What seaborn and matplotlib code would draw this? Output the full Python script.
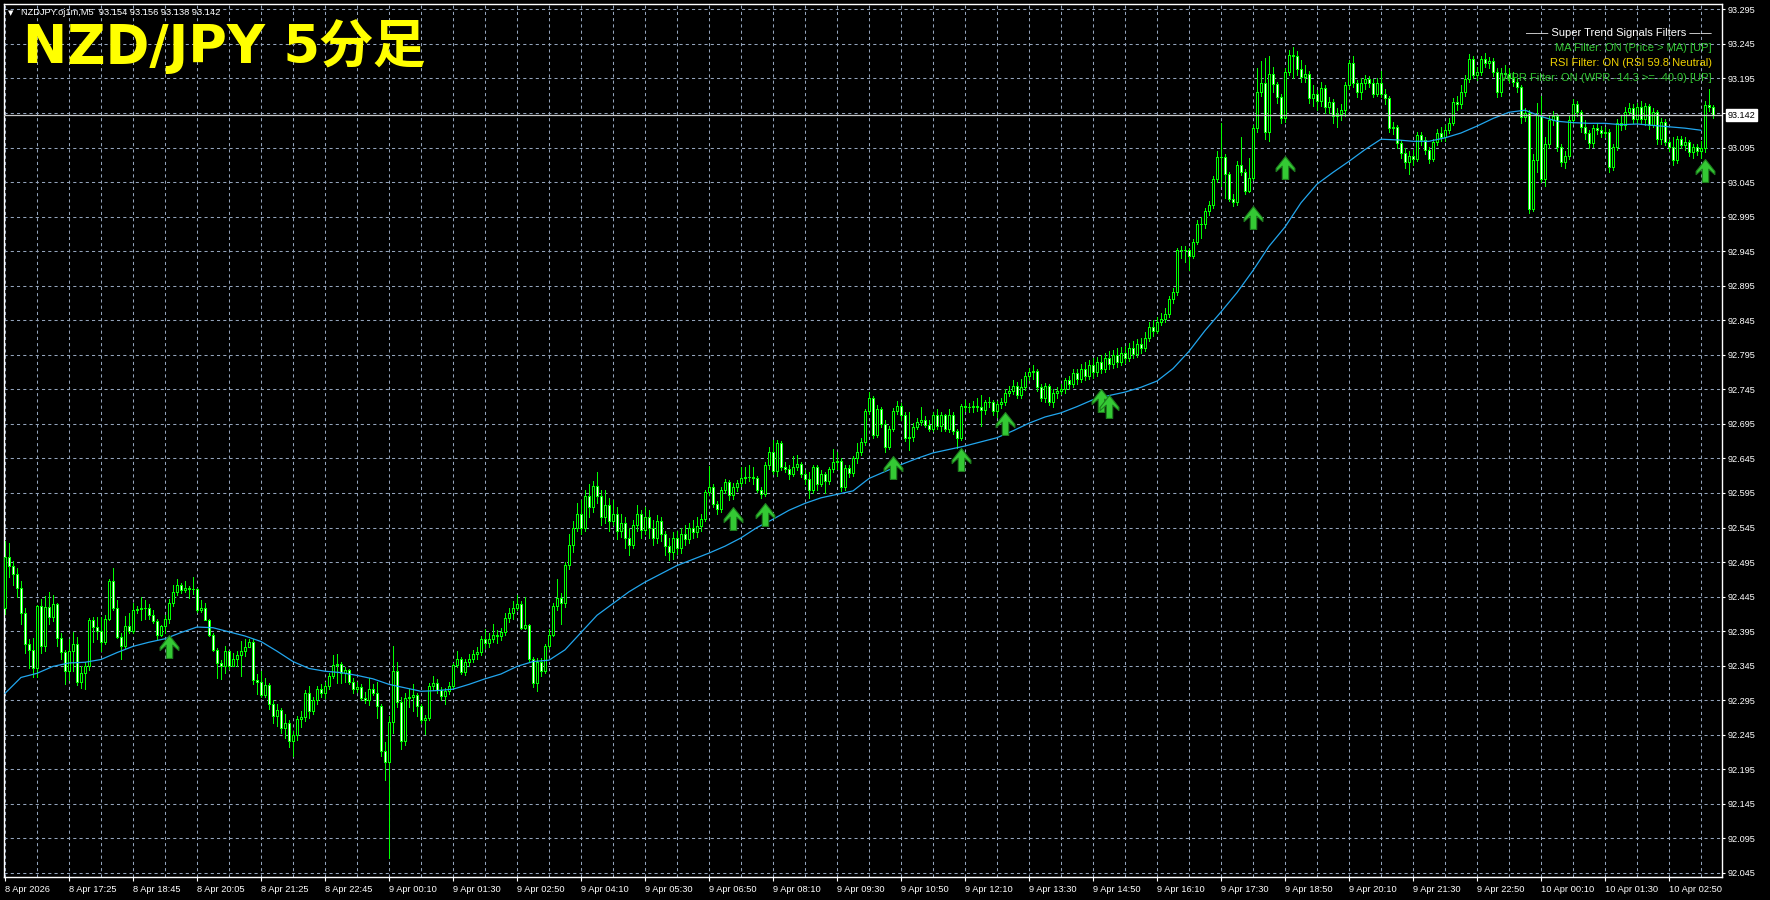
import numpy as np
import matplotlib
matplotlib.use("Agg")
import matplotlib.pyplot as plt
import seaborn as sns
from matplotlib.path import Path

# NZDJPY M5 candles, one value per bar, left to right
first_open = 92.428
closes = [
    92.503, 92.489, 92.478, 92.457, 92.421, 92.376, 92.368, 92.342, 92.432, 92.373, 92.430, 92.416, 92.434, 92.385, 92.365, 92.338,
    92.366, 92.376, 92.322, 92.334, 92.345, 92.411, 92.401, 92.395, 92.379, 92.413, 92.467, 92.428, 92.387, 92.373, 92.403, 92.395,
    92.426, 92.427, 92.428, 92.428, 92.419, 92.409, 92.390, 92.402, 92.412, 92.436, 92.451, 92.462, 92.455, 92.457, 92.456, 92.456,
    92.425, 92.428, 92.411, 92.390, 92.368, 92.349, 92.345, 92.366, 92.345, 92.354, 92.361, 92.366, 92.372, 92.380, 92.324, 92.321,
    92.303, 92.317, 92.290, 92.272, 92.281, 92.255, 92.262, 92.236, 92.245, 92.268, 92.271, 92.306, 92.279, 92.296, 92.312, 92.305,
    92.316, 92.330, 92.346, 92.348, 92.335, 92.339, 92.322, 92.312, 92.314, 92.298, 92.296, 92.312, 92.305, 92.286, 92.222, 92.205,
    92.264, 92.337, 92.293, 92.236, 92.298, 92.300, 92.302, 92.286, 92.267, 92.269, 92.316, 92.320, 92.310, 92.301, 92.308, 92.316,
    92.346, 92.354, 92.336, 92.350, 92.355, 92.362, 92.365, 92.383, 92.378, 92.384, 92.390, 92.388, 92.394, 92.414, 92.421, 92.428,
    92.434, 92.400, 92.404, 92.354, 92.320, 92.351, 92.337, 92.373, 92.390, 92.432, 92.443, 92.436, 92.491, 92.520, 92.545, 92.565,
    92.545, 92.590, 92.575, 92.605, 92.590, 92.560, 92.578, 92.555, 92.565, 92.540, 92.552, 92.530, 92.520, 92.548, 92.565, 92.542,
    92.560, 92.545, 92.530, 92.555, 92.535, 92.518, 92.510, 92.530, 92.515, 92.535, 92.528, 92.545, 92.538, 92.547, 92.557, 92.597,
    92.603, 92.579, 92.572, 92.600, 92.611, 92.592, 92.603, 92.609, 92.616, 92.618, 92.618, 92.616, 92.600, 92.593, 92.635, 92.655,
    92.627, 92.667, 92.632, 92.630, 92.622, 92.632, 92.637, 92.623, 92.615, 92.600, 92.632, 92.608, 92.622, 92.613, 92.629, 92.640,
    92.641, 92.603, 92.631, 92.624, 92.645, 92.655, 92.669, 92.713, 92.733, 92.679, 92.716, 92.695, 92.662, 92.687, 92.714, 92.721,
    92.708, 92.675, 92.676, 92.691, 92.698, 92.700, 92.694, 92.688, 92.708, 92.692, 92.708, 92.688, 92.708, 92.684, 92.675, 92.721,
    92.720, 92.719, 92.721, 92.720, 92.715, 92.726, 92.727, 92.713, 92.724, 92.726, 92.740, 92.742, 92.750, 92.737, 92.748, 92.765,
    92.770, 92.772, 92.748, 92.733, 92.750, 92.727, 92.739, 92.743, 92.745, 92.758, 92.752, 92.768, 92.760, 92.775, 92.765, 92.780,
    92.770, 92.785, 92.775, 92.790, 92.782, 92.795, 92.785, 92.798, 92.790, 92.805, 92.796, 92.810, 92.805, 92.820, 92.835, 92.830,
    92.842, 92.847, 92.854, 92.876, 92.886, 92.946, 92.947, 92.946, 92.938, 92.958, 92.985, 92.984, 93.003, 93.012, 93.050, 93.081,
    93.081, 93.056, 93.021, 93.016, 93.070, 93.060, 93.032, 93.051, 93.123, 93.175, 93.189, 93.118, 93.202, 93.187, 93.168, 93.137,
    93.204, 93.229, 93.228, 93.209, 93.197, 93.202, 93.167, 93.173, 93.162, 93.181, 93.153, 93.161, 93.141, 93.144, 93.150, 93.185,
    93.217, 93.188, 93.176, 93.188, 93.194, 93.188, 93.173, 93.188, 93.173, 93.166, 93.123, 93.125, 93.101, 93.087, 93.074, 93.083,
    93.079, 93.113, 93.106, 93.091, 93.079, 93.103, 93.116, 93.110, 93.120, 93.131, 93.161, 93.158, 93.176, 93.194, 93.223, 93.200,
    93.205, 93.223, 93.217, 93.220, 93.205, 93.176, 93.203, 93.201, 93.196, 93.190, 93.183, 93.139, 93.145, 93.006, 93.077, 93.142,
    93.050, 93.100, 93.135, 93.140, 93.096, 93.074, 93.082, 93.135, 93.158, 93.147, 93.125, 93.116, 93.101, 93.123, 93.120, 93.116,
    93.118, 93.067, 93.096, 93.130, 93.127, 93.147, 93.152, 93.136, 93.153, 93.136, 93.155, 93.128, 93.147, 93.108, 93.132, 93.103,
    93.096, 93.077, 93.108, 93.099, 93.103, 93.089, 93.096, 93.090, 93.094, 93.157, 93.154, 93.142,
]
highs = [
    92.525, 92.523, 92.496, 92.486, 92.467, 92.428, 92.383, 92.385, 92.433, 92.441, 92.446, 92.452, 92.447, 92.436, 92.392, 92.368,
    92.383, 92.394, 92.386, 92.344, 92.351, 92.414, 92.416, 92.416, 92.416, 92.418, 92.470, 92.486, 92.440, 92.392, 92.417, 92.422,
    92.436, 92.432, 92.444, 92.440, 92.435, 92.425, 92.412, 92.404, 92.418, 92.442, 92.462, 92.471, 92.465, 92.468, 92.460, 92.474,
    92.457, 92.440, 92.436, 92.413, 92.392, 92.370, 92.353, 92.373, 92.366, 92.364, 92.367, 92.381, 92.383, 92.383, 92.383, 92.333,
    92.338, 92.327, 92.320, 92.296, 92.290, 92.284, 92.275, 92.266, 92.250, 92.272, 92.280, 92.310, 92.315, 92.300, 92.316, 92.318,
    92.322, 92.334, 92.360, 92.362, 92.351, 92.343, 92.340, 92.327, 92.322, 92.318, 92.307, 92.327, 92.319, 92.322, 92.290, 92.235,
    92.272, 92.373, 92.350, 92.300, 92.305, 92.312, 92.318, 92.306, 92.290, 92.273, 92.320, 92.330, 92.326, 92.314, 92.313, 92.322,
    92.349, 92.366, 92.358, 92.355, 92.362, 92.368, 92.372, 92.388, 92.398, 92.392, 92.405, 92.396, 92.400, 92.422, 92.428, 92.438,
    92.448, 92.438, 92.445, 92.406, 92.358, 92.356, 92.356, 92.376, 92.398, 92.436, 92.470, 92.450, 92.495, 92.535, 92.555, 92.580,
    92.585, 92.600, 92.608, 92.612, 92.625, 92.600, 92.600, 92.588, 92.585, 92.575, 92.565, 92.560, 92.545, 92.556, 92.578, 92.570,
    92.575, 92.570, 92.556, 92.563, 92.560, 92.540, 92.530, 92.538, 92.540, 92.545, 92.548, 92.552, 92.556, 92.560, 92.565, 92.600,
    92.634, 92.608, 92.584, 92.604, 92.615, 92.614, 92.610, 92.614, 92.632, 92.632, 92.636, 92.632, 92.620, 92.604, 92.640, 92.662,
    92.671, 92.672, 92.670, 92.640, 92.636, 92.648, 92.650, 92.640, 92.628, 92.626, 92.636, 92.635, 92.628, 92.626, 92.633, 92.658,
    92.655, 92.645, 92.636, 92.636, 92.648, 92.668, 92.675, 92.716, 92.741, 92.736, 92.722, 92.720, 92.700, 92.692, 92.718, 92.728,
    92.725, 92.712, 92.712, 92.696, 92.704, 92.720, 92.706, 92.700, 92.712, 92.717, 92.712, 92.710, 92.717, 92.712, 92.688, 92.724,
    92.729, 92.725, 92.728, 92.732, 92.737, 92.730, 92.734, 92.730, 92.728, 92.732, 92.745, 92.750, 92.758, 92.755, 92.760, 92.770,
    92.776, 92.780, 92.775, 92.752, 92.754, 92.753, 92.745, 92.748, 92.752, 92.762, 92.765, 92.774, 92.775, 92.782, 92.785, 92.788,
    92.790, 92.792, 92.795, 92.798, 92.800, 92.802, 92.805, 92.806, 92.808, 92.812, 92.815, 92.818, 92.820, 92.828, 92.842, 92.846,
    92.850, 92.856, 92.862, 92.880, 92.892, 92.950, 92.952, 92.952, 92.950, 92.962, 92.990, 92.994, 93.008, 93.018, 93.054, 93.090,
    93.130, 93.086, 93.060, 93.028, 93.075, 93.110, 93.064, 93.080, 93.128, 93.210, 93.220, 93.225, 93.228, 93.212, 93.190, 93.172,
    93.210, 93.236, 93.240, 93.234, 93.222, 93.215, 93.206, 93.185, 93.178, 93.190, 93.185, 93.168, 93.165, 93.152, 93.158, 93.190,
    93.222, 93.228, 93.192, 93.196, 93.200, 93.198, 93.194, 93.196, 93.206, 93.180, 93.170, 93.132, 93.128, 93.106, 93.094, 93.090,
    93.092, 93.118, 93.118, 93.110, 93.096, 93.108, 93.122, 93.124, 93.128, 93.138, 93.166, 93.170, 93.185, 93.200, 93.230, 93.228,
    93.212, 93.228, 93.232, 93.226, 93.224, 93.210, 93.210, 93.214, 93.210, 93.204, 93.195, 93.186, 93.152, 93.150, 93.085, 93.160,
    93.170, 93.110, 93.140, 93.148, 93.143, 93.100, 93.090, 93.142, 93.165, 93.162, 93.150, 93.135, 93.120, 93.128, 93.130, 93.126,
    93.124, 93.122, 93.100, 93.136, 93.140, 93.154, 93.160, 93.158, 93.160, 93.162, 93.160, 93.158, 93.152, 93.150, 93.138, 93.136,
    93.108, 93.110, 93.112, 93.112, 93.110, 93.106, 93.100, 93.100, 93.104, 93.162, 93.180, 93.156,
]
lows = [
    92.420, 92.474, 92.462, 92.444, 92.406, 92.363, 92.341, 92.329, 92.329, 92.363, 92.366, 92.406, 92.410, 92.373, 92.354, 92.319,
    92.325, 92.338, 92.317, 92.313, 92.311, 92.339, 92.379, 92.384, 92.366, 92.376, 92.411, 92.426, 92.385, 92.354, 92.371, 92.393,
    92.393, 92.422, 92.411, 92.413, 92.412, 92.407, 92.383, 92.388, 92.393, 92.407, 92.431, 92.448, 92.450, 92.452, 92.443, 92.449,
    92.423, 92.423, 92.411, 92.388, 92.367, 92.327, 92.326, 92.335, 92.340, 92.345, 92.345, 92.330, 92.359, 92.372, 92.319, 92.304,
    92.300, 92.300, 92.283, 92.262, 92.258, 92.248, 92.240, 92.228, 92.215, 92.238, 92.257, 92.265, 92.270, 92.275, 92.290, 92.300,
    92.298, 92.312, 92.327, 92.320, 92.320, 92.321, 92.318, 92.305, 92.307, 92.295, 92.291, 92.288, 92.303, 92.270, 92.215, 92.180,
    92.066, 92.248, 92.285, 92.225, 92.230, 92.285, 92.280, 92.272, 92.262, 92.246, 92.266, 92.310, 92.305, 92.296, 92.290, 92.304,
    92.313, 92.343, 92.333, 92.332, 92.345, 92.350, 92.355, 92.360, 92.370, 92.372, 92.380, 92.378, 92.382, 92.390, 92.408, 92.412,
    92.425, 92.398, 92.398, 92.350, 92.314, 92.308, 92.330, 92.335, 92.370, 92.388, 92.425, 92.405, 92.430, 92.485, 92.510, 92.540,
    92.535, 92.540, 92.560, 92.568, 92.580, 92.548, 92.552, 92.540, 92.548, 92.528, 92.532, 92.515, 92.505, 92.516, 92.540, 92.530,
    92.535, 92.530, 92.520, 92.522, 92.525, 92.505, 92.498, 92.500, 92.506, 92.508, 92.520, 92.522, 92.530, 92.532, 92.540, 92.554,
    92.592, 92.575, 92.565, 92.568, 92.595, 92.585, 92.586, 92.598, 92.605, 92.610, 92.612, 92.608, 92.596, 92.588, 92.590, 92.630,
    92.622, 92.620, 92.628, 92.625, 92.615, 92.620, 92.628, 92.618, 92.608, 92.588, 92.595, 92.600, 92.605, 92.595, 92.608, 92.625,
    92.630, 92.598, 92.600, 92.618, 92.620, 92.638, 92.650, 92.665, 92.710, 92.675, 92.676, 92.690, 92.655, 92.658, 92.684, 92.710,
    92.700, 92.670, 92.657, 92.670, 92.688, 92.694, 92.690, 92.684, 92.684, 92.688, 92.684, 92.684, 92.683, 92.680, 92.660, 92.672,
    92.714, 92.712, 92.712, 92.714, 92.692, 92.710, 92.720, 92.708, 92.705, 92.718, 92.722, 92.736, 92.738, 92.732, 92.733, 92.744,
    92.758, 92.760, 92.742, 92.728, 92.726, 92.722, 92.720, 92.732, 92.738, 92.740, 92.745, 92.748, 92.752, 92.755, 92.758, 92.760,
    92.762, 92.765, 92.768, 92.770, 92.775, 92.776, 92.778, 92.780, 92.783, 92.786, 92.790, 92.792, 92.798, 92.800, 92.815, 92.822,
    92.826, 92.838, 92.842, 92.850, 92.870, 92.882, 92.935, 92.930, 92.918, 92.935, 92.955, 92.964, 92.978, 92.998, 93.008, 93.045,
    93.040, 93.022, 93.018, 93.010, 93.012, 93.055, 93.028, 93.030, 93.048, 93.118, 93.170, 93.108, 93.105, 93.175, 93.160, 93.130,
    93.132, 93.200, 93.195, 93.200, 93.190, 93.190, 93.160, 93.155, 93.150, 93.155, 93.145, 93.145, 93.130, 93.125, 93.135, 93.140,
    93.180, 93.182, 93.168, 93.165, 93.180, 93.182, 93.168, 93.170, 93.168, 93.158, 93.118, 93.115, 93.095, 93.080, 93.066, 93.057,
    93.070, 93.075, 93.098, 93.085, 93.072, 93.076, 93.098, 93.104, 93.105, 93.116, 93.128, 93.150, 93.152, 93.170, 93.190, 93.196,
    93.192, 93.200, 93.212, 93.210, 93.198, 93.168, 93.170, 93.195, 93.190, 93.184, 93.176, 93.130, 93.134, 93.000, 93.003, 93.060,
    93.045, 93.040, 93.095, 93.128, 93.090, 93.068, 93.066, 93.078, 93.130, 93.140, 93.118, 93.108, 93.094, 93.096, 93.114, 93.110,
    93.110, 93.060, 93.062, 93.092, 93.120, 93.122, 93.142, 93.130, 93.130, 93.130, 93.128, 93.122, 93.125, 93.100, 93.100, 93.098,
    93.090, 93.070, 93.072, 93.094, 93.092, 93.082, 93.080, 93.084, 93.080, 93.088, 93.148, 93.138,
]

# moving average (blue line), read every 4 bars
ma_step = 4
ma_values = [
    92.305, 92.328, 92.334, 92.344, 92.349, 92.350, 92.354, 92.364, 92.373, 92.379, 92.384, 92.393, 92.401, 92.400, 92.394, 92.388,
    92.380, 92.366, 92.351, 92.341, 92.337, 92.335, 92.331, 92.326, 92.318, 92.313, 92.308, 92.309, 92.311, 92.318, 92.326, 92.333,
    92.344, 92.351, 92.353, 92.368, 92.393, 92.418, 92.435, 92.452, 92.466, 92.478, 92.490, 92.499, 92.508, 92.518, 92.530, 92.545,
    92.557, 92.570, 92.580, 92.588, 92.593, 92.598, 92.616, 92.626, 92.636, 92.645, 92.653, 92.658, 92.663, 92.669, 92.675, 92.685,
    92.696, 92.705, 92.711, 92.720, 92.730, 92.736, 92.741, 92.748, 92.757, 92.775, 92.800, 92.830, 92.857, 92.885, 92.917, 92.952,
    92.980, 93.015, 93.042, 93.059, 93.075, 93.092, 93.107, 93.106, 93.104, 93.104, 93.109, 93.116, 93.126, 93.137, 93.146, 93.149,
    93.140, 93.133, 93.131, 93.130, 93.130, 93.128, 93.129, 93.127, 93.125, 93.123, 93.120,
]

# buy-signal arrows: bar index and price at the arrow tip
signal_bars = [41, 182, 190, 222, 239, 250, 274, 276, 312, 320, 425]
signal_tips = [92.390, 92.575, 92.580, 92.649, 92.660, 92.712, 92.746, 92.737, 93.011, 93.083, 93.079]

time_labels = [
    "8 Apr 2026", "8 Apr 17:25", "8 Apr 18:45", "8 Apr 20:05", "8 Apr 21:25", "8 Apr 22:45",
    "9 Apr 00:10", "9 Apr 01:30", "9 Apr 02:50", "9 Apr 04:10", "9 Apr 05:30", "9 Apr 06:50",
    "9 Apr 08:10", "9 Apr 09:30", "9 Apr 10:50", "9 Apr 12:10", "9 Apr 13:30", "9 Apr 14:50",
    "9 Apr 16:10", "9 Apr 17:30", "9 Apr 18:50", "9 Apr 20:10", "9 Apr 21:30", "9 Apr 22:50",
    "10 Apr 00:10", "10 Apr 01:30", "10 Apr 02:50",
]
price_ticks = [round(92.045 + 0.05 * k, 3) for k in range(26)]
last_price = 93.142

header = "NZDJPY.oj1m,M5  93.154 93.156 93.138 93.142"
title = "NZD/JPY 5分足"
panel_lines = [
    "—— Super Trend Signals Filters ——",
    "MA Filter: ON (Price > MA) [UP]",
    "RSI Filter: ON (RSI 59.8 Neutral)",
    "WPR Filter: ON (WPR -14.3 >= -40.0) [UP]",
]

# ---------------------------------------------------------------------------
W, H = 1770, 900
LIME = "#00ff00"
GRID = "#93a3bb"

sns.set_theme(style="dark", rc={
    "figure.facecolor": "black",
    "axes.facecolor": "black",
    "savefig.facecolor": "black",
})
plt.rcParams["font.family"] = ["Liberation Sans", "DejaVu Sans"]

closes = np.array(closes)
highs = np.array(highs)
lows = np.array(lows)
opens = np.concatenate([[first_open], closes[:-1]])
highs = np.maximum(highs, np.maximum(opens, closes))
lows = np.minimum(lows, np.minimum(opens, closes))
n = len(closes)
bars = np.arange(n)

fig = plt.figure(figsize=(W / 100, H / 100), dpi=100)
ax = fig.add_axes([4 / W, (H - 877) / H, (1722 - 4) / W, (877 - 4) / H])
ax.set_facecolor("black")

# grid: horizontal at every price tick, vertical every 8 bars
ax.set_xticks(bars[::16])
ax.set_xticks(np.arange(8, n, 16), minor=True)
ax.set_yticks(price_ticks)
ax.grid(True, which="both", axis="x", color=GRID, linestyle=(0, (3, 3)), linewidth=0.75)
ax.grid(True, which="major", axis="y", color=GRID, linestyle=(0, (3, 3)), linewidth=0.75)
ax.set_axisbelow(True)

# candles, drawn without antialiasing to keep MT4-like crisp pixels
up = closes >= opens
body_lo = np.minimum(opens, closes)
body_h = np.maximum(np.abs(closes - opens), 0.0007)
ax.vlines(bars, lows, highs, color=LIME, linewidth=0.7, zorder=2, antialiased=False)
ax.bar(bars[up], body_h[up], bottom=body_lo[up], width=0.5, color="black",
       edgecolor=LIME, linewidth=0.5, zorder=3, antialiased=False)
ax.bar(bars[~up], body_h[~up], bottom=body_lo[~up], width=0.5, color="white",
       edgecolor=LIME, linewidth=0.5, zorder=3, antialiased=False)

# moving average
ma_x = np.arange(0, n, ma_step)[:len(ma_values)]
sns.lineplot(x=ma_x, y=ma_values, ax=ax, color="#22a6ee", linewidth=0.9, zorder=4)

# last price line + box
ax.axhline(last_price, color="#c8c8c8", linewidth=0.9, zorder=4)
ax.annotate(f"{last_price:.3f}", xy=(1, last_price), xycoords=("axes fraction", "data"),
            xytext=(4, 0), textcoords="offset points", ha="left", va="center",
            fontsize=6.6, color="black", annotation_clip=False, zorder=10,
            bbox=dict(boxstyle="square,pad=0.2", fc="white", ec="white"))

# signal arrows (tip at the given price)
arrow = Path([(0, 0), (0.41, -0.52), (0.41, -0.66), (0.14, -0.42), (0.14, -1.0),
              (-0.14, -1.0), (-0.14, -0.42), (-0.41, -0.66), (-0.41, -0.52), (0, 0)],
             [Path.MOVETO] + [Path.LINETO] * 8 + [Path.CLOSEPOLY])
ax.scatter(signal_bars, signal_tips, marker=arrow, s=1090, color="#34c934",
           edgecolor="#1d7d1d", linewidth=0.8, zorder=6)

ax.set_xlim(-0.25, 429.25)
ax.set_ylim(92.0392, 93.3027)

# axes cosmetics
for side in ["left", "top", "right", "bottom"]:
    ax.spines[side].set_color("white")
    ax.spines[side].set_linewidth(1.0)
    ax.spines[side].set_visible(True)
ax.yaxis.tick_right()
ax.set_yticklabels([f"{p:.3f}" for p in price_ticks])
ax.set_xticklabels(time_labels, ha="left")
ax.tick_params(axis="x", which="major", colors="white", labelcolor="white", labelsize=6.7,
               direction="out", length=3, width=0.8, pad=2.5, bottom=True)
ax.tick_params(axis="x", which="minor", length=0)
ax.tick_params(axis="y", colors="white", labelcolor="white", labelsize=6.6,
               direction="out", length=2.5, width=0.8, pad=1.5, right=True, left=False)
ax.set_xlabel("")
ax.set_ylabel("")

# texts
fig.text(8 / W, 1 - 13 / H, "▼", fontsize=5, color="white", va="center", ha="left",
         family=["DejaVu Sans"])
fig.text(21 / W, 1 - 12.5 / H, header, fontsize=6.7, color="white", va="center", ha="left")
fig.text(23 / W, 1 - 63 / H, title, fontsize=38, color="#ffff00", va="baseline", ha="left",
         fontweight="bold", family=["DejaVu Sans", "Noto Sans CJK JP"])

panel_colors = ["white", "#33c633", "#f0d200", "#33c633"]
for i, (line, col) in enumerate(zip(panel_lines, panel_colors)):
    fig.text(1712 / W, 1 - (33 + 15 * i) / H, line, fontsize=8, color=col,
             ha="right", va="center")

fig.savefig("out.png", dpi=100, facecolor="black")
